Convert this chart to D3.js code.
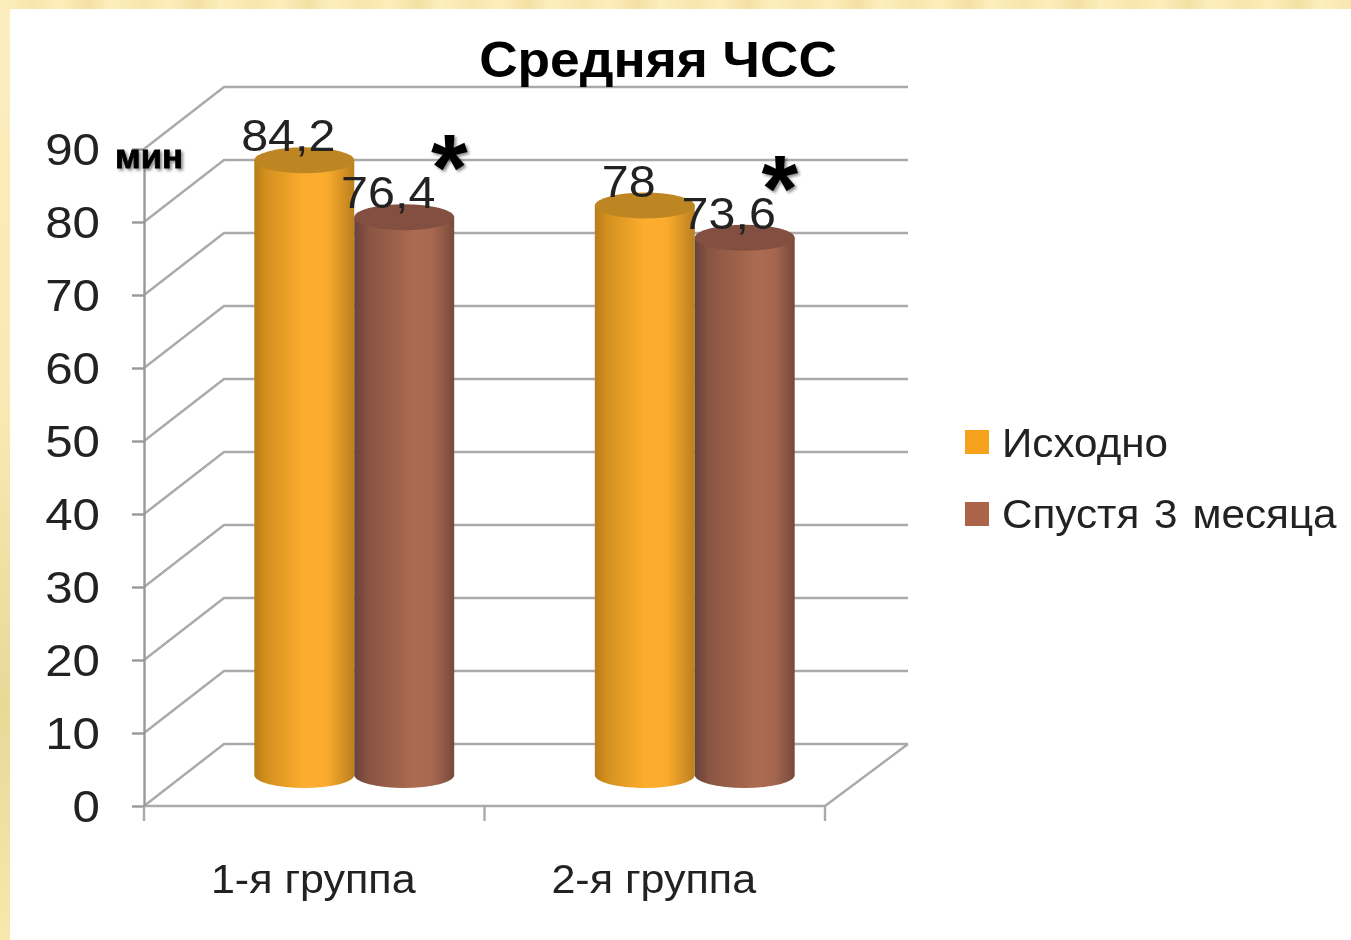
<!DOCTYPE html>
<html>
<head>
<meta charset="utf-8">
<script src="https://cdn.jsdelivr.net/npm/d3@7"></script>
<style>
  html, body { margin: 0; background: #fff; }
  svg { display: block; font-family: "Liberation Sans", Arial, sans-serif; }
  text { fill: #222; }
  .grid { stroke: #aaa; stroke-width: 2.4; fill: none; }
  .axis path, .axis line { stroke: #999; stroke-width: 2.4; }
</style>
</head>
<body>
<svg width="1351" height="940"></svg>
<script>
const categories = ['1-я группа', '2-я группа'];
const seriesNames = ['Исходно', 'Спустя 3 месяца'];
const baseline = [84.2, 78];
const after3Months = [76.4, 73.6];
const labelsBase = ['84,2', '78'];
const labelsAfter = ['76,4', '73,6'];
const yTicks = [0, 10, 20, 30, 40, 50, 60, 70, 80, 90];
const significant = [true, true];

const width = 1351, height = 940;
const stretch = 1.12;   // the source image is wider than it is tall
const depthX = 80, depthY = -62;
const starNudge = [45, 35];

const svg = d3.select('svg');
const defs = svg.append('defs');

const gradient = (id, stops, attrs = {}) => {
    const lg = defs.append('linearGradient').attr('id', id);
    Object.entries(attrs).forEach(([k, v]) => lg.attr(k, v));
    lg.selectAll('stop').data(stops)
        .enter().append('stop')
            .attr('offset', d => d[0])
            .attr('stop-color', d => d[1]);
};

// pale textured frame on the top and left of the page
gradient('frameTop', [[0, '#fdeebd'], [0.3, '#f8e6ad'], [0.55, '#fdedb9'], [0.8, '#f3e0a3'], [1, '#fdeebd']],
    {gradientUnits: 'userSpaceOnUse', x1: 0, x2: 110, y1: 0, y2: 0, spreadMethod: 'repeat'});
gradient('frameLeft', [[0, '#fdeebf'], [0.45, '#f9e8b2'], [0.75, '#e9d896'], [1, '#f9e7ad']],
    {gradientUnits: 'userSpaceOnUse', x1: 0, x2: 0, y1: 0, y2: 940});
svg.append('rect').attr('width', 10).attr('height', height).attr('fill', 'url(#frameLeft)');
svg.append('rect').attr('width', width).attr('height', 9).attr('fill', 'url(#frameTop)');

defs.append('filter').attr('id', 'soft')
    .append('feGaussianBlur').attr('stdDeviation', 0.6);
const shadow = defs.append('filter').attr('id', 'shadow');
shadow.append('feDropShadow')
    .attr('dx', 2).attr('dy', 2).attr('stdDeviation', 1.5)
    .attr('flood-color', '#000').attr('flood-opacity', 0.45);

gradient('orangeBody', [[0, '#b87c1e'], [0.12, '#d3901f'], [0.5, '#fdad2e'], [0.72, '#fbab2d'], [1, '#bb801f']]);
gradient('brownBody', [[0, '#69423a'], [0.15, '#8a5543'], [0.62, '#ad6b52'], [0.8, '#a56650'], [1, '#774a3a']]);

const styles = [
    {body: 'url(#orangeBody)', top: '#bd8620', swatch: '#f7a21f'},
    {body: 'url(#brownBody)', top: '#83503f', swatch: '#ab6449'}
];

const g = svg.append('g').attr('filter', 'url(#soft)');

const y = d3.scaleLinear().domain([0, 90]).range([806, 149]);
const x0 = d3.scaleBand().domain(categories).range([144, 825]).paddingInner(0.413).paddingOuter(0.2065);
const x1 = d3.scaleBand().domain(seriesNames).range([0, x0.bandwidth()]);

// walls and floor
const left = x0.range()[0], right = x0.range()[1];
const walls = g.append('g');
walls.selectAll('path').data(yTicks)
    .enter().append('path')
        .attr('class', 'grid')
        .attr('d', d => `M${left},${y(d)}L${left + depthX},${y(d) + depthY}L${right + depthX + 3},${y(d) + depthY}`);
walls.append('path')
    .attr('class', 'grid')
    .attr('d', `M${left},${y(0)}L${right},${y(0)}L${right + depthX + 3},${y(0) + depthY}`);

// y axis
g.append('g')
    .attr('class', 'axis')
    .attr('transform', `translate(${left},0)`)
    .call(d3.axisLeft(y).tickValues(yTicks).tickSize(12).tickPadding(44).tickSizeOuter(0))
    .call(a => a.selectAll('text')
        .attr('font-size', 44)
        .attr('fill', '#222')
        .attr('transform', `scale(${stretch},1)`)
        .attr('x', -44 / stretch)
        .attr('y', 1.5));

// x axis ticks sit on the category boundaries, labels in the middle
const step = x0.step();
const xEdges = categories.map((c, i) => left + i * step).concat([right]);
g.append('g').selectAll('line').data(xEdges)
    .enter().append('line')
        .attr('class', 'grid')
        .attr('x1', d => d).attr('x2', d => d)
        .attr('y1', y(0)).attr('y2', y(0) + 15);

const stretched = (sel, fx, fy, k = stretch) => sel.attr('transform', (d, i) => `translate(${fx(d, i)},${fy(d, i)}) scale(${k},1)`);

g.append('g').selectAll('text').data(categories)
    .enter().append('text')
        .attr('font-size', 41)
        .attr('text-anchor', 'middle')
        .text(d => d)
        .call(stretched, d => x0(d) + x0.bandwidth() / 2 - 1, () => 893, 1.05);

// cylinders
const barW = x1.bandwidth();
const ry = 13;
const rows = categories.map((c, i) => [
    {cat: c, idx: i, series: seriesNames[0], s: 0, value: baseline[i], label: labelsBase[i]},
    {cat: c, idx: i, series: seriesNames[1], s: 1, value: after3Months[i], label: labelsAfter[i], star: significant[i]}
]);
const barsG = g.append('g').attr('transform', `translate(${depthX / 2},${depthY / 2})`);
const group = barsG.selectAll('g').data(rows)
    .enter().append('g')
        .attr('transform', d => `translate(${x0(d[0].cat)},0)`);
const bar = group.selectAll('g').data(d => d)
    .enter().append('g')
        .attr('transform', d => `translate(${x1(d.series)},0)`);

bar.append('path')
    .attr('fill', d => styles[d.s].body)
    .attr('d', d => `M0,${y(d.value)}L0,${y(0)}A${barW / 2},${ry} 0 0 0 ${barW},${y(0)}L${barW},${y(d.value)}Z`);
bar.append('ellipse')
    .attr('cx', barW / 2)
    .attr('cy', d => y(d.value))
    .attr('rx', barW / 2)
    .attr('ry', ry)
    .attr('fill', d => styles[d.s].top);

// data labels go over both bars, so they are drawn after them
const labelsG = g.append('g').attr('transform', `translate(${depthX / 2},${depthY / 2})`);
const flat = rows.flat();
labelsG.selectAll('text.value').data(flat)
    .enter().append('text')
        .attr('class', 'value')
        .attr('font-size', 44)
        .attr('text-anchor', 'middle')
        .text(d => d.label)
        .call(stretched, d => x0(d.cat) + x1(d.series) + barW / 2 - 16, d => y(d.value) - 9, 1.1);

// significance marks
const stars = g.append('g').attr('filter', 'url(#shadow)');
stars.selectAll('text').data(flat.filter(d => d.star))
    .enter().append('text')
        .attr('font-size', 94)
        .attr('font-weight', 'bold')
        .attr('text-anchor', 'middle')
        .style('fill', '#000')
        .text('*')
        .attr('x', d => x0(d.cat) + x1(d.series) + barW / 2 + depthX / 2 + starNudge[d.idx])
        .attr('y', d => y(d.value) - 48);

// title and unit
g.append('text')
    .attr('font-size', 50)
    .attr('font-weight', 'bold')
    .attr('text-anchor', 'middle')
    .style('fill', '#000')
    .attr('transform', 'translate(658,77) scale(1.065,1)')
    .text('Средняя ЧСС');

svg.append('text')
    .attr('font-size', 33)
    .attr('font-weight', 'bold')
    .attr('filter', 'url(#shadow)')
    .style('fill', '#000')
    .attr('stroke', '#000')
    .attr('stroke-width', 0.8)
    .attr('transform', 'translate(115,168) scale(1.05,1)')
    .text('мин');

// legend
const legend = g.append('g').selectAll('g').data(seriesNames)
    .enter().append('g')
        .attr('transform', (d, i) => `translate(965,${430 + i * 72})`);
legend.append('rect')
    .attr('width', 24).attr('height', 24)
    .attr('fill', (d, i) => styles[i].swatch);
legend.append('text')
    .attr('font-size', 41)
    .attr('word-spacing', 3)
    .attr('transform', (d, i) => `translate(37,${27 - i}) scale(1.03,1)`)
    .text(d => d);
</script>
</body>
</html>
